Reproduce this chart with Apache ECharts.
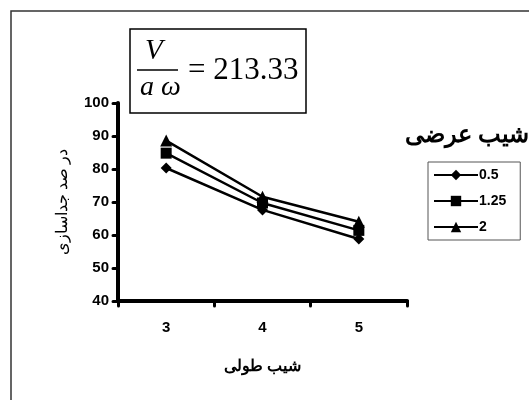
<!DOCTYPE html>
<html><head><meta charset="utf-8">
<script src="https://cdn.jsdelivr.net/npm/echarts@6/dist/echarts.min.js"></script>
<style>html,body{margin:0;padding:0;background:#fff}#c{width:529px;height:400px}</style>
</head><body><div id="c"></div>
<script>
var categories = ['3', '4', '5'];
var seriesNames = ['0.5', '1.25', '2'];
var s05 = [80.3, 67.6, 58.8];
var s125 = [84.8, 69.7, 61.4];
var s2 = [88.6, 71.6, 64.0];
var yTicks = {min: 40, max: 100, interval: 10};
var xTitle = 'شیب طولی';
var yTitle = 'در صد جداسازی';
var legendTitle = 'شیب عرضی';
var eqValue = '= 213.33';

var chart = echarts.init(document.getElementById('c'), null, {renderer: 'canvas'});
var symbols = ['diamond', 'rect', 'triangle'];
var sizes = [11, 11, 12];
var data = [s05, s125, s2];
var series = seriesNames.map(function (n, i) {
  return {
    name: n, type: 'line', data: data[i], symbol: symbols[i], symbolSize: sizes[i],
    lineStyle: {color: '#000', width: 2.5}, itemStyle: {color: '#000'}, animation: false
  };
});
chart.setOption({
  animation: false,
  grid: {left: 118, right: 122, top: 103, bottom: 99},
  xAxis: {
    type: 'category', data: categories, boundaryGap: true,
    name: xTitle, nameLocation: 'middle', nameGap: 58,
    nameTextStyle: {fontFamily: 'Liberation Serif', fontSize: 16, fontWeight: 'bold', color: '#000'},
    axisLine: {lineStyle: {color: '#000', width: 4}},
    axisTick: {show: true, alignWithLabel: false, length: 5, inside: false, lineStyle: {color: '#000', width: 3, cap: 'round'}},
    axisLabel: {color: '#000', fontFamily: 'Liberation Sans', fontWeight: 'bold', fontSize: 15, margin: 19}
  },
  yAxis: {
    type: 'value', min: yTicks.min, max: yTicks.max, interval: yTicks.interval,
    name: yTitle, nameLocation: 'middle', nameGap: 47, nameRotate: 90,
    nameTextStyle: {fontFamily: 'Liberation Serif', fontSize: 16, color: '#000'},
    axisLine: {show: true, lineStyle: {color: '#000', width: 4}},
    axisTick: {show: true, length: 5, lineStyle: {color: '#000', width: 3, cap: 'round'}},
    splitLine: {show: false},
    axisLabel: {color: '#000', fontFamily: 'Liberation Sans', fontWeight: 'bold', fontSize: 15, margin: 9}
  },
  legend: {
    orient: 'vertical', left: 428, top: 162, data: seriesNames,
    itemWidth: 44, itemHeight: 13, itemGap: 12,
    borderColor: '#555', borderWidth: 1, padding: [6, 14, 6, 5],
    textStyle: {color: '#000', fontFamily: 'Liberation Sans', fontWeight: 'bold', fontSize: 14, padding: [0, 0, 0, -4]}
  },
  graphic: [
    {type: 'polyline', shape: {points: [[11, 400], [11, 11], [529, 11]]}, style: {stroke: '#333', lineWidth: 1.5, fill: null}},
    {type: 'rect', shape: {x: 130, y: 29, width: 176, height: 84}, style: {stroke: '#000', lineWidth: 1.5, fill: '#fff'}},
    {type: 'text', left: 145, top: 37, style: {text: 'V', font: 'italic 29px "Liberation Serif"', fill: '#000'}},
    {type: 'line', shape: {x1: 137, y1: 70, x2: 178, y2: 70}, style: {stroke: '#000', lineWidth: 1.5}},
    {type: 'text', left: 140, top: 74, style: {text: 'a ω', font: 'italic 28px "Liberation Serif"', fill: '#000'}},
    {type: 'text', left: 188, top: 55, style: {text: eqValue, font: '31px "Liberation Serif"', fill: '#000'}},
    {type: 'text', left: 405, top: 124, style: {text: legendTitle, font: 'bold 24px "Liberation Serif"', fill: '#000'}}
  ],
  series: series
});
</script></body></html>
